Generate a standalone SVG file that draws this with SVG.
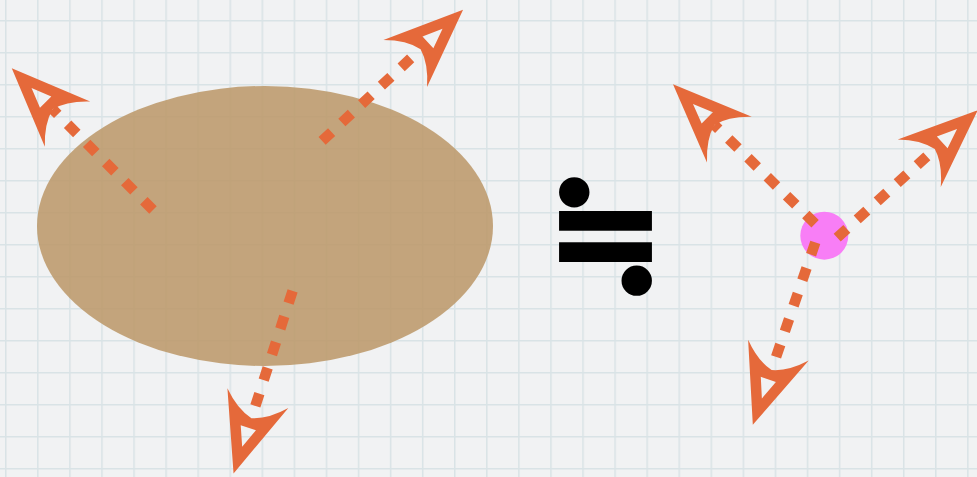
<svg xmlns="http://www.w3.org/2000/svg" width="977" height="477" viewBox="0 0 977 477">
<style>
.conn{fill:none;stroke:#e5693a;stroke-width:10.5;stroke-dasharray:13 14;stroke-linecap:butt;marker-end:url(#ah)}
.sym{font-family:"DejaVu Serif",serif;font-weight:bold;fill:#000;stroke:#000;stroke-width:4}
</style>
<defs>
<pattern id="grid" patternUnits="userSpaceOnUse" x="5" y="20" width="32.07" height="32">
<rect width="32.07" height="32" fill="#f1f2f3"/>
<path d="M0.75,0V32M0,0.75H32.07" stroke="#d9e3e6" stroke-width="1.5" fill="none"/>
</pattern>
<marker id="ah" markerUnits="userSpaceOnUse" viewBox="-85 -40 90 80" refX="-58" refY="0" markerWidth="90" markerHeight="80" orient="auto">
<path fill="#e5693a" fill-rule="evenodd" d="M0,0L-79,32Q-62,16 -58,0Q-62,-16 -79,-32Z M-28,0L-48,8L-48,-8Z"/>
</marker>
</defs>
<rect width="977" height="477" fill="url(#grid)"/>
<g id="blob"><ellipse cx="265" cy="226" rx="228" ry="140" fill="#bc9768" fill-opacity="0.86"/></g>
<g id="point"><circle cx="824.3" cy="235.7" r="24" fill="#f87ef6"/></g>
<g id="symbol"><text class="sym" x="605.5" y="281" font-size="142" text-anchor="middle">≒</text></g>
<g id="connectors">
<line class="conn" x1="153" y1="210" x2="52.7" y2="109.3"/>
<line class="conn" x1="322.1" y1="140.9" x2="420.6" y2="49.2"/>
<line class="conn" x1="292.6" y1="290.8" x2="251.4" y2="418.2"/>
<line class="conn" x1="815.1" y1="223.7" x2="714.4" y2="124.9"/>
<line class="conn" x1="837.2" y1="237.6" x2="934.8" y2="149.1"/>
<line class="conn" x1="815.3" y1="242.4" x2="771.6" y2="370"/>
</g>
</svg>
